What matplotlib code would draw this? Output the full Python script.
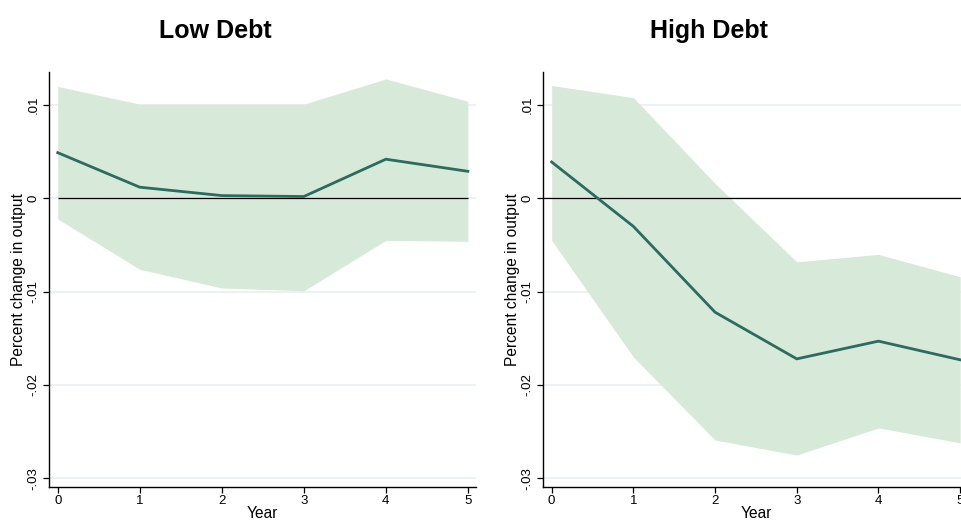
import numpy as np
import matplotlib
matplotlib.use('Agg')
import matplotlib.pyplot as plt

plt.rcParams['font.family'] = ['Liberation Sans', 'DejaVu Sans']

years = [0, 1, 2, 3, 4, 5]

# low debt: point estimate and confidence band
low_mean = [0.0049, 0.0012, 0.0003, 0.0002, 0.0042, 0.0029]
low_upper = [0.0120, 0.0101, 0.0101, 0.0101, 0.0128, 0.0104]
low_lower = [-0.0022, -0.0076, -0.0096, -0.0099, -0.0045, -0.0046]

# high debt
high_mean = [0.0039, -0.0030, -0.0122, -0.0172, -0.0153, -0.0173]
high_upper = [0.0121, 0.0108, 0.0016, -0.0068, -0.0060, -0.0084]
high_lower = [-0.0045, -0.0170, -0.0259, -0.0275, -0.0246, -0.0262]

titles = ['Low Debt', 'High Debt']
yticks = [-0.03, -0.02, -0.01, 0, 0.01]
ytick_labels = ['-.03', '-.02', '-.01', '0', '.01']

line_col = '#2b6b60'
band_col = '#d7e9d8'
grid_col = '#eaf1f2'

fig = plt.figure(figsize=(9.62, 5.2), dpi=100)
ax1 = fig.add_axes([0.0513, 0.064, 0.4436, 0.798])
ax2 = fig.add_axes([0.5648, 0.064, 0.4418, 0.798])

panels = [(ax1, low_mean, low_upper, low_lower), (ax2, high_mean, high_upper, high_lower)]
for i, (ax, m, up, lo) in enumerate(panels):
    for yt in yticks:
        ax.axhline(yt, color=grid_col, lw=1.3, zorder=0)
    ax.fill_between(years, lo, up, color=band_col, lw=0, zorder=1)
    if i == 0:
        ax.hlines(0, 0, 5, color='black', lw=0.9, zorder=2)
    else:
        ax.axhline(0, color='black', lw=0.9, zorder=2)
    ax.plot(years, m, color=line_col, lw=2.0, zorder=3, solid_joinstyle='miter')

    ax.set_xlim(-0.102, 5.10)
    ax.set_ylim(-0.0309, 0.01357)
    ax.set_xticks(years)
    ax.set_yticks(yticks)
    ax.set_yticklabels(ytick_labels, rotation=90, va='center')
    ax.tick_params(axis='both', labelsize=9.5, length=4, width=0.9, pad=3, color='black')
    ax.tick_params(axis='x', pad=2)
    for s in ['top', 'right']:
        ax.spines[s].set_visible(False)
    for s in ['left', 'bottom']:
        ax.spines[s].set_linewidth(1.0)
    ax.set_ylabel('Percent change in output', fontsize=11.2, labelpad=1)
    ax.set_xlabel('Year', fontsize=11.2, labelpad=-1)
    ax.set_title(titles[i], fontsize=18, fontweight='bold', x=0.39, y=1.0, pad=24)

fig.savefig('out.png', dpi=100)
